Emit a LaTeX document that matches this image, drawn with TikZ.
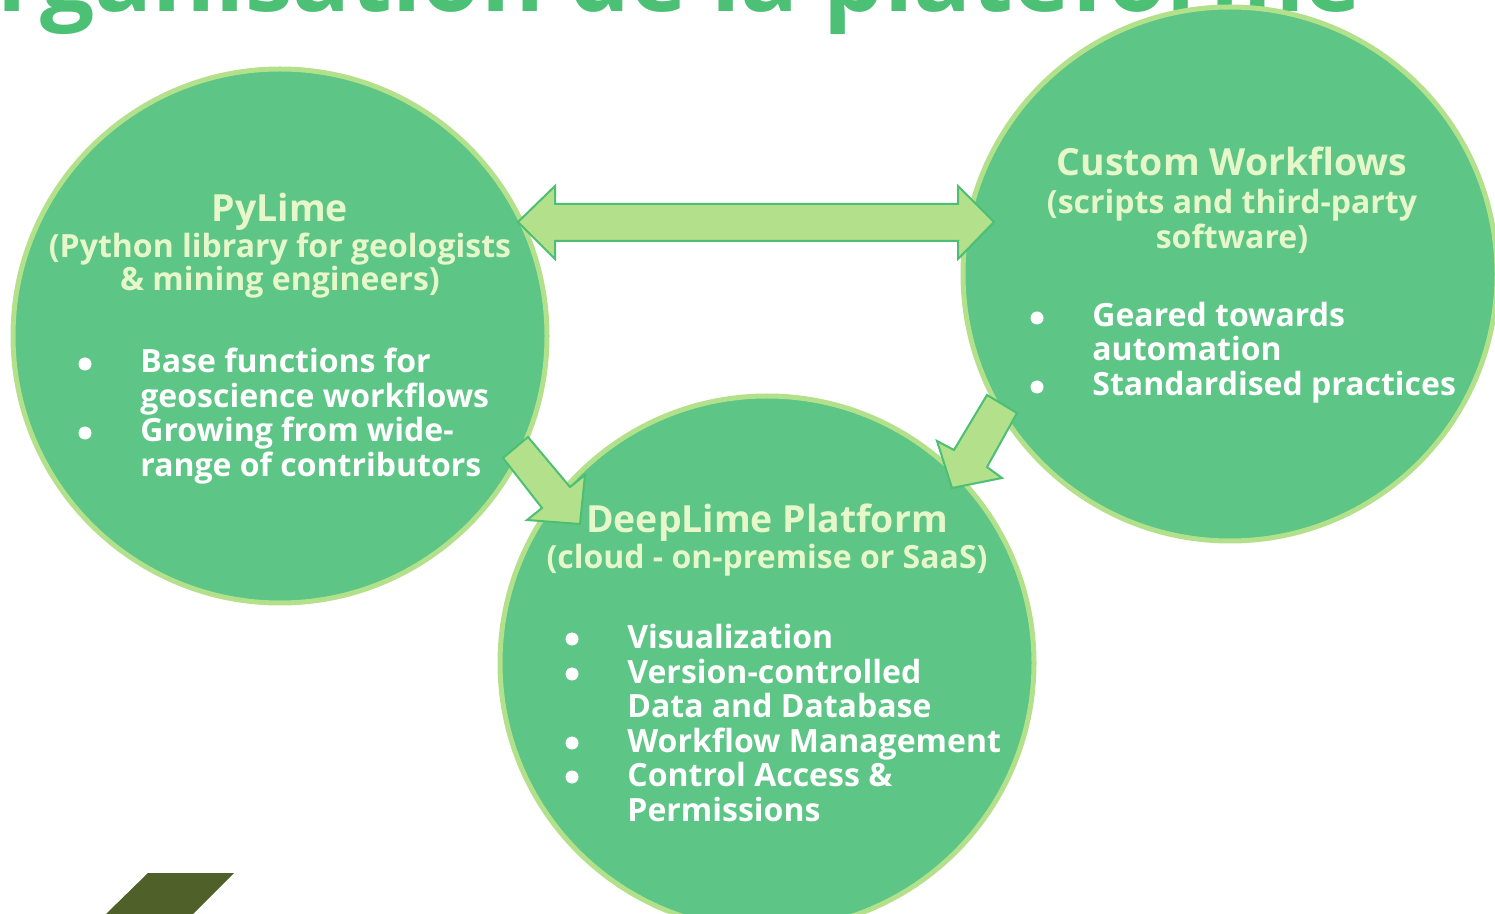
\documentclass[tikz,border=0pt]{standalone}
\usepackage{fontspec}
\setmainfont{Open Sans}
\definecolor{bubblefill}{HTML}{5DC585}
\definecolor{bubbleedge}{HTML}{B3E08A}
\definecolor{arrowfill}{HTML}{B3E08A}
\definecolor{arrowedge}{HTML}{4CBF74}
\definecolor{titlegreen}{HTML}{4CC075}
\definecolor{headtext}{HTML}{E6F8CA}
\definecolor{olive}{HTML}{4F6129}
\tikzset{
  bubble/.style={circle, fill=bubblefill, draw=bubbleedge, line width=2.5pt, minimum size=267pt, inner sep=0pt, outer sep=0pt},
  blockarrow/.style={fill=arrowfill, draw=arrowedge, line width=1pt, line join=miter},
  headline/.style={font=\fontsize{18.7}{21}\selectfont\bfseries, text=headtext, anchor=base, inner sep=0pt},
  subline/.style={font=\fontsize{16}{18}\selectfont\bfseries, text=headtext, anchor=base, inner sep=0pt},
  itemline/.style={font=\fontsize{16}{18}\selectfont\bfseries, text=white, anchor=base west, inner sep=0pt},
  dot/.style={circle, fill=white, minimum size=6.5pt, inner sep=0pt},
}
\begin{document}
\begin{tikzpicture}[x=0.5pt, y=-0.5pt]
\useasboundingbox (0,0) rectangle (1495,914);
\begin{scope}
\clip (0,0) rectangle (1495,914);
% title
\node[font=\fontsize{48}{54}\selectfont\bfseries, text=titlegreen, anchor=base east, inner sep=0pt] (title) at (1362,12) {Organisation de la plateforme};
% decoration
\fill[olive] (148,873) -- (234,873) -- (193,914) -- (106,914) -- cycle;
% circles
\node[bubble] (pylime) at (280,336) {};
\node[bubble] (custom) at (1230,274) {};
\node[bubble] (deeplime) at (767,663) {};
% arrows
\draw[blockarrow] (518,222) -- (555,186) -- (555,204) -- (958,204) -- (958,186) -- (994,222) -- (958,259) -- (958,241) -- (555,241) -- (555,259) -- cycle;
\draw[blockarrow] (528,437) -- (570,487) -- (585,475) -- (580,524) -- (527,520) -- (542,508) -- (503,458) -- cycle;
\draw[blockarrow] (987,395) -- (1017,413) -- (987,467) -- (1002,478) -- (952,488) -- (937,441) -- (954,450) -- cycle;
% PyLime text
\node[headline] (pyA) at (280,222) {PyLime};
\node[subline] (pyB) at (280,258) {(Python library for geologists};
\node[subline] (pyC) at (280,291) {\& mining engineers)};
\node[dot] (pyD1) at (85,364) {};
\node[itemline] (pyI1) at (140,373) {Base functions for};
\node[itemline] (pyI2) at (140,408) {geoscience workflows};
\node[dot] (pyD2) at (85,433) {};
\node[itemline] (pyI3) at (140,442) {Growing from wide-};
\node[itemline] (pyI4) at (140,477) {range of contributors};
% Custom text
\node[headline] (cuA) at (1232,176) {Custom Workflows};
\node[subline] (cuB) at (1232,214) {(scripts and third-party};
\node[subline] (cuC) at (1232,249) {software)};
\node[dot] (cuD1) at (1037,318) {};
\node[itemline] (cuI1) at (1092,327) {Geared towards};
\node[itemline] (cuI2) at (1092,361) {automation};
\node[dot] (cuD2) at (1037,387) {};
\node[itemline] (cuI3) at (1092,396) {Standardised practices};
% DeepLime text
\node[headline] (dlA) at (767,533) {DeepLime Platform};
\node[subline] (dlB) at (767,568) {(cloud - on-premise or SaaS)};
\node[dot] (dlD1) at (572,639) {};
\node[itemline] (dlI1) at (627,648) {Visualization};
\node[dot] (dlD2) at (572,674) {};
\node[itemline] (dlI2) at (627,683) {Version-controlled};
\node[itemline] (dlI3) at (627,718) {Data and Database};
\node[dot] (dlD3) at (572,743) {};
\node[itemline] (dlI4) at (627,752) {Workflow Management};
\node[dot] (dlD4) at (572,777) {};
\node[itemline] (dlI5) at (627,786) {Control Access \&};
\node[itemline] (dlI6) at (627,821) {Permissions};
\end{scope}
\end{tikzpicture}
\end{document}
